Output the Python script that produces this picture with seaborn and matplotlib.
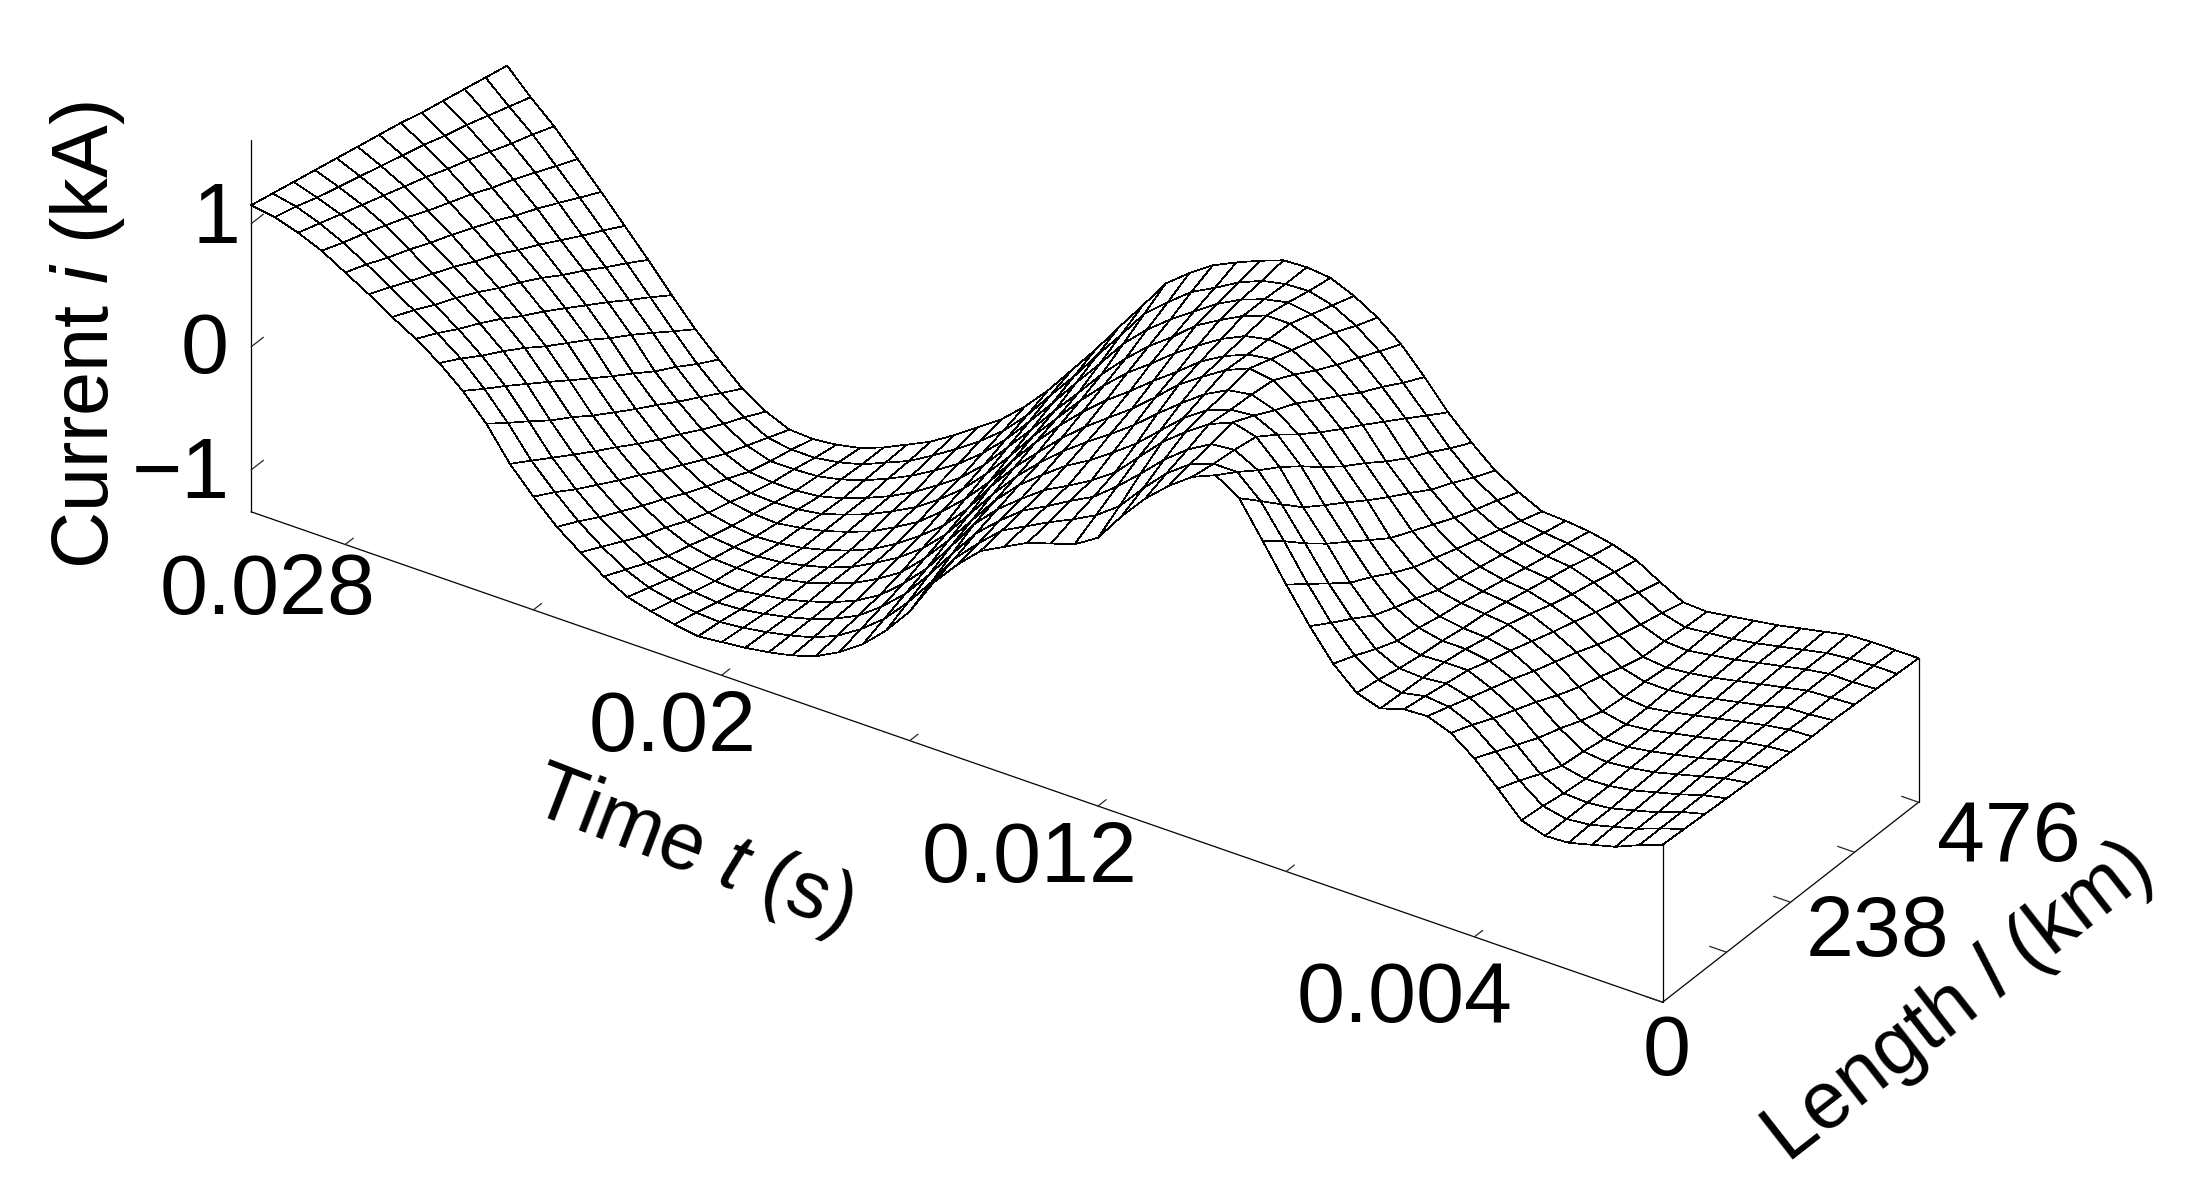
import numpy as np
import matplotlib
matplotlib.use("Agg")
import matplotlib.pyplot as plt
import seaborn as sns

# current (kA), one list per length station, 0.5 ms apart in time
time_step_s = 0.0005
length_km = [0, 40, 79, 119, 159, 198, 238, 278, 317, 357, 397, 436, 476]

i_l000 = [-.06,-.13,-.21,-.26,-.31,-.32,-.26,-.07,.11,.25,.32,.31,.25,.31,.48,.72,.99,1.28,1.56,1.68,1.60,1.46,1.29,1.08,.84,.72,.66,.60,.50,.40,.22,.01,-.29,-.51,-.69,-.82,-.92,-.98,-1.02,-1.05,-1.07,-1.09,-1.06,-1.02,-.97,-.87,-.74,-.60,-.42,-.22,.04,.24,.40,.53,.64,.76,.87,.98,1.06,1.12,1.15]
i_l040 = [-.07,-.13,-.20,-.25,-.30,-.32,-.28,-.14,.03,.18,.26,.28,.24,.28,.41,.61,.86,1.14,1.40,1.57,1.57,1.50,1.36,1.17,.96,.82,.72,.63,.53,.43,.26,.07,-.19,-.42,-.62,-.77,-.89,-.97,-1.02,-1.06,-1.09,-1.11,-1.10,-1.07,-1.03,-.95,-.83,-.69,-.52,-.33,-.09,.12,.30,.44,.56,.68,.80,.91,1.0,1.07,1.11]
i_l079 = [-.08,-.13,-.20,-.25,-.30,-.32,-.31,-.22,-.05,.10,.20,.25,.23,.24,.33,.51,.73,.99,1.24,1.45,1.55,1.53,1.42,1.27,1.09,.92,.77,.67,.56,.46,.31,.14,-.09,-.33,-.55,-.72,-.86,-.95,-1.02,-1.07,-1.11,-1.14,-1.15,-1.13,-1.09,-1.03,-.92,-.79,-.63,-.44,-.21,.01,.19,.34,.47,.60,.72,.85,.94,1.01,1.07]
i_l119 = [-.09,-.13,-.19,-.24,-.29,-.32,-.33,-.29,-.13,.03,.14,.22,.22,.21,.26,.40,.60,.85,1.08,1.34,1.52,1.57,1.49,1.36,1.21,1.02,.83,.70,.59,.49,.35,.20,.01,-.24,-.48,-.67,-.83,-.94,-1.02,-1.08,-1.13,-1.16,-1.19,-1.18,-1.15,-1.11,-1.01,-.88,-.73,-.55,-.34,-.11,.09,.25,.39,.52,.65,.78,.88,.96,1.03]
i_l159 = [-.10,-.13,-.18,-.23,-.28,-.31,-.33,-.31,-.19,-.04,.08,.16,.19,.19,.23,.33,.51,.73,.96,1.21,1.40,1.49,1.47,1.40,1.27,1.10,.93,.79,.66,.55,.41,.26,.07,-.16,-.39,-.60,-.78,-.90,-1.0,-1.07,-1.13,-1.17,-1.21,-1.21,-1.20,-1.16,-1.08,-.97,-.83,-.66,-.45,-.23,-.02,.15,.30,.44,.57,.71,.82,.91,.99]
i_l198 = [-.11,-.14,-.18,-.23,-.27,-.31,-.34,-.34,-.26,-.12,.01,.11,.15,.16,.19,.27,.41,.61,.85,1.07,1.27,1.40,1.46,1.43,1.33,1.19,1.04,.88,.74,.61,.47,.31,.13,-.08,-.31,-.54,-.72,-.86,-.97,-1.07,-1.14,-1.19,-1.23,-1.25,-1.24,-1.22,-1.16,-1.05,-.92,-.76,-.57,-.35,-.14,.04,.20,.35,.50,.63,.76,.86,.95]
i_l238 = [-.12,-.14,-.17,-.22,-.26,-.30,-.34,-.36,-.32,-.19,-.05,.05,.12,.14,.16,.20,.32,.49,.73,.94,1.15,1.32,1.44,1.47,1.39,1.27,1.14,.97,.81,.67,.53,.37,.19,0,-.22,-.47,-.67,-.82,-.95,-1.06,-1.14,-1.20,-1.25,-1.28,-1.29,-1.27,-1.23,-1.14,-1.02,-.87,-.68,-.47,-.25,-.06,.11,.27,.42,.56,.70,.81,.91]
i_l278 = [-.13,-.14,-.17,-.21,-.25,-.29,-.33,-.36,-.34,-.24,-.11,-.01,.07,.10,.12,.16,.26,.41,.62,.83,1.04,1.21,1.35,1.41,1.38,1.30,1.19,1.04,.90,.75,.61,.45,.27,.07,-.15,-.39,-.59,-.76,-.91,-1.02,-1.12,-1.19,-1.25,-1.29,-1.32,-1.31,-1.28,-1.22,-1.11,-.97,-.79,-.59,-.36,-.17,.01,.17,.34,.49,.63,.76,.87]
i_l317 = [-.13,-.15,-.16,-.21,-.25,-.29,-.33,-.35,-.35,-.30,-.18,-.06,.01,.06,.08,.12,.20,.33,.52,.71,.94,1.11,1.25,1.35,1.37,1.33,1.24,1.12,.99,.84,.70,.53,.34,.13,-.08,-.31,-.52,-.71,-.86,-.99,-1.09,-1.18,-1.25,-1.31,-1.34,-1.35,-1.34,-1.29,-1.20,-1.06,-.89,-.70,-.48,-.28,-.10,.08,.25,.41,.57,.70,.82]
i_l357 = [-.14,-.15,-.16,-.20,-.24,-.28,-.32,-.35,-.37,-.35,-.24,-.12,-.04,.02,.04,.08,.14,.25,.41,.60,.83,1.0,1.16,1.29,1.36,1.36,1.29,1.19,1.08,.92,.78,.61,.42,.20,-.01,-.23,-.44,-.65,-.82,-.95,-1.07,-1.17,-1.25,-1.32,-1.37,-1.39,-1.39,-1.37,-1.29,-1.16,-1.0,-.82,-.59,-.39,-.20,-.02,.17,.34,.50,.65,.78]
i_l397 = [-.15,-.16,-.16,-.19,-.23,-.27,-.31,-.34,-.37,-.36,-.29,-.17,-.08,-.02,0,.04,.08,.18,.33,.51,.72,.91,1.08,1.22,1.30,1.33,1.29,1.22,1.12,.99,.86,.71,.53,.30,.08,-.15,-.37,-.58,-.76,-.91,-1.03,-1.14,-1.23,-1.31,-1.37,-1.41,-1.42,-1.42,-1.36,-1.25,-1.10,-.92,-.71,-.51,-.31,-.12,.08,.26,.43,.59,.74]
i_l436 = [-.16,-.16,-.17,-.19,-.23,-.27,-.31,-.34,-.36,-.38,-.33,-.23,-.13,-.07,-.03,-.01,.02,.12,.24,.41,.61,.81,1.0,1.14,1.24,1.29,1.28,1.24,1.16,1.05,.95,.80,.64,.40,.17,-.07,-.29,-.52,-.71,-.86,-.99,-1.11,-1.22,-1.30,-1.38,-1.43,-1.46,-1.46,-1.43,-1.33,-1.20,-1.03,-.83,-.62,-.41,-.21,-.01,.18,.37,.53,.70]
i_l476 = [-.17,-.17,-.17,-.18,-.22,-.26,-.30,-.33,-.36,-.39,-.38,-.28,-.17,-.11,-.07,-.05,-.04,.05,.16,.32,.50,.72,.92,1.07,1.18,1.26,1.28,1.27,1.20,1.12,1.03,.90,.75,.50,.26,.01,-.22,-.45,-.65,-.82,-.95,-1.08,-1.20,-1.29,-1.38,-1.45,-1.49,-1.51,-1.50,-1.42,-1.30,-1.13,-.95,-.74,-.52,-.31,-.10,.10,.30,.47,.66]

time_ticks = [0.004, 0.008, 0.012, 0.016, 0.02, 0.024, 0.028]
length_ticks = [0, 119, 238, 357, 476]
current_ticks = [-1, 0, 1]

# tick text and where it sits in the 2188x1198 picture
tick_text = ["0.028", "0.02", "0.012", "0.004", "0", "238", "476", "1", "0", "\u22121"]
tick_x = [268, 673, 1030, 1405, 1667, 1877, 2009, 216, 205, 181]
tick_y = [592, 729, 860, 1000, 1053, 934, 839, 221, 351, 476]

W, H = 2188, 1198
SIDE = 2800  # oversize square 3d axes so nothing gets clipped

sns.set_theme(style="white")
plt.rcParams["font.family"] = ["Liberation Sans", "DejaVu Sans"]
plt.rcParams["text.color"] = "black"
plt.rcParams["mathtext.fontset"] = "custom"
plt.rcParams["mathtext.rm"] = "Liberation Sans"
plt.rcParams["mathtext.it"] = "Liberation Sans:italic"


def main():
    current = np.array([i_l000, i_l040, i_l079, i_l119, i_l159, i_l198, i_l238,
                        i_l278, i_l317, i_l357, i_l397, i_l436, i_l476])
    time_s = np.arange(current.shape[1]) * time_step_s
    T, L = np.meshgrid(time_s, length_km)

    fig = plt.figure(figsize=(W / 100, H / 100), dpi=100)
    ax = fig.add_axes([-353 / W, -711 / H, SIDE / W, SIDE / H], projection="3d")
    ax.set_proj_type("ortho")
    ax.view_init(elev=31.4, azim=-56.3)
    ax.set_box_aspect((1697, 461.5, 435.6), zoom=0.628)
    ax.set_xlim(0.03, 0)
    ax.set_ylim(0, 476)
    ax.set_zlim(-1.34, 1.68)

    ax.plot_surface(T, L, current, rstride=1, cstride=1, color="white",
                    edgecolor="black", linewidth=0.5, shade=False, antialiased=False)

    # the two corner posts under the surface
    ax.plot([0, 0], [0, 0], [-1.34, i_l000[0]], color="black", lw=0.9)
    ax.plot([0, 0], [476, 476], [-1.34, i_l476[0]], color="black", lw=0.9)

    ax.grid(False)
    ax.set_xticks(time_ticks, labels=[""] * len(time_ticks))
    ax.set_yticks(length_ticks, labels=[""] * len(length_ticks))
    ax.set_zticks(current_ticks, labels=[""] * len(current_ticks))
    ax.zaxis.set_ticks_position("lower")

    factors = {ax.xaxis: 0.4, ax.yaxis: 0.15, ax.zaxis: 0.6}
    for axis, out in factors.items():
        axis.set_pane_color((1, 1, 1, 0))
        axis.pane.set_edgecolor((1, 1, 1, 0))
        axis.line.set_color("black")
        axis.line.set_linewidth(0.9)
        axis._axinfo["tick"].update(inward_factor=0, outward_factor=out,
                                    color="black", linewidth={True: 0.9, False: 0.9})

    for text, x, y in zip(tick_text, tick_x, tick_y):
        fig.text(x / W, 1 - y / H, text, fontsize=62, ha="center", va="center")

    fig.text(88 / W, 1 - 335 / H, "Current $\\mathit{i}$ (kA)", fontsize=57,
             rotation=90, ha="center", va="center")
    fig.text(692 / W, 1 - 851 / H, "Time $\\mathit{t}$ (s)", fontsize=58,
             rotation=-21, ha="center", va="center", rotation_mode="anchor")
    fig.text(1958 / W, 1 - 1004 / H, "Length $\\mathit{l}$ (km)", fontsize=58,
             rotation=38, ha="center", va="center", rotation_mode="anchor")

    fig.savefig("out.png", dpi=100, facecolor="white")
    plt.close(fig)


if __name__ == "__main__":
    main()
